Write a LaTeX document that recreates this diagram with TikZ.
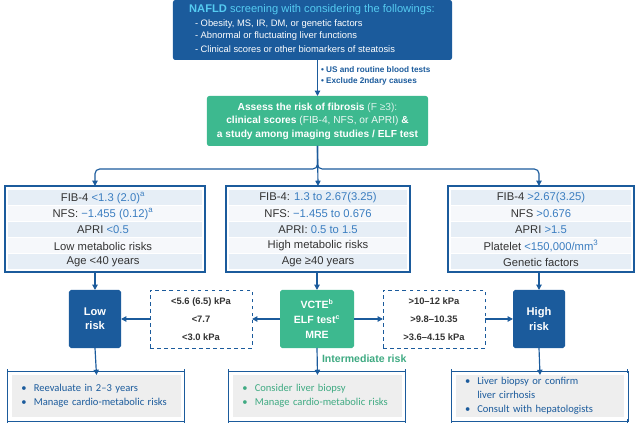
\documentclass[tikz,border=0pt]{standalone}
\usepackage{fontspec}
\setmainfont{Liberation Sans}
\newfontfamily\calfont{Carlito}
\usetikzlibrary{arrows.meta}
\definecolor{navy}{HTML}{1B5B9C}
\definecolor{fibgreen}{HTML}{3DB98F}
\definecolor{notegreen}{HTML}{3FAA82}
\definecolor{cyantitle}{HTML}{55CCF2}
\definecolor{valblue}{HTML}{3A7DC0}
\definecolor{rowa}{HTML}{E6EEF6}
\definecolor{rowb}{HTML}{F6F8FB}
\definecolor{notegray}{HTML}{EEEEEE}
\definecolor{txtgray}{HTML}{333333}
\newcommand{\val}[1]{\textcolor{valblue}{#1}}

\begin{document}
\begin{tikzpicture}
[x=0.03cm,y=-0.03cm,
every node/.style={inner sep=0pt,outer sep=0pt,text=txtgray},
link/.style={draw=navy,line width=1pt,-{Triangle[length=4.5pt,width=4.5pt]}},
critbox/.style={draw=navy,line width=1.8pt,minimum height=2.58cm},
rowtext/.style={font=\fontsize{9.6}{12}\selectfont},
riskbox/.style={fill=navy,rounded corners=1.5pt,minimum width=1.56cm,minimum height=1.74cm,text=white,align=center,font=\bfseries\fontsize{9.5}{12}\selectfont},
cutbox/.style={draw=navy,dashed,line width=.6pt,minimum width=3.06cm,minimum height=1.74cm,align=center,font=\bfseries\fontsize{8}{15.3}\selectfont},
note/.style={fill=notegray,minimum width=5.04cm,minimum height=1.26cm,text width=4.5cm,align=left,font=\calfont\fontsize{9}{11.9}\selectfont},
frame/.style={draw=navy,line width=.5pt}]
\useasboundingbox (0,0) rectangle (636,427);

% screening
\node[fill=navy,rounded corners=2pt,minimum width=8.37cm,minimum height=1.8cm] (top) at (312.5,30) {};
\node[text=cyantitle,font=\fontsize{9.5}{11}\selectfont] (ttl) at (312,10) {\textbf{NAFLD} screening with considering the followings:};
\foreach \i/\t in {1/{Obesity, MS, IR, DM, or genetic factors},2/{Abnormal or fluctuating liver functions},3/{Clinical scores or other biomarkers of steatosis}}
\node[anchor=west,text=white,font=\fontsize{8}{10}\selectfont] (scr\i) at (195,11.5+12.5*\i) {- \t};
\node[anchor=west,align=left,text=navy,font=\bfseries\fontsize{7}{9.4}\selectfont] (prep) at (321,76) {\textbullet\ US and routine blood tests\\ \textbullet\ Exclude 2ndary causes};

% fibrosis assessment
\node[fill=fibgreen,rounded corners=2pt,minimum width=6.63cm,minimum height=1.5cm,text=white,align=center,font=\fontsize{8.7}{11.5}\selectfont] (fib) at (317.5,121)
{\textbf{Assess the risk of fibrosis} \textcolor{white!80!fibgreen}{(F ≥3):}\\ \textbf{clinical scores} \textcolor{white!90!fibgreen}{(FIB-4, NFS, or APRI)} \textbf{\&}\\ \textbf{a study among imaging studies / ELF test}};

% criteria
\node[critbox,minimum width=6cm] (lowcrit) at (105,229) {};
\node[critbox,minimum width=5.52cm] (midcrit) at (318,229) {};
\node[critbox,minimum width=5.58cm] (highcrit) at (541,229) {};
\foreach \a/\b in {8/202,229/407,451/631}{
\foreach \r in {0,2,4} \fill[rowa] (\a,190.5+16*\r) rectangle (\b,205.5+16*\r);
\foreach \r in {1,3} \fill[rowb] (\a,190.5+16*\r) rectangle (\b,205.5+16*\r);
}
\foreach \i/\t in {1/{FIB-4 \val{<1.3 (2.0)\textsuperscript{a}}},2/{NFS: \val{−1.455 (0.12)\textsuperscript{a}}},3/{APRI \val{<0.5}},4/{Low metabolic risks},5/{Age <40 years}}
\node[rowtext] (lc\i) at (103,182+16*\i) {\t};
\foreach \i/\t in {1/{FIB-4: \val{1.3 to 2.67(3.25)}},2/{NFS: \val{−1.455 to 0.676}},3/{APRI: \val{0.5 to 1.5}},4/{High metabolic risks},5/{Age ≥40 years}}
\node[rowtext] (mc\i) at (318,182+16*\i) {\t};
\foreach \i/\t in {1/{FIB-4 \val{>2.67(3.25)}},2/{NFS \val{>0.676}},3/{APRI \val{>1.5}},4/{Platelet \val{<150,000/mm\textsuperscript{3}}},5/{Genetic factors}}
\node[rowtext] (hc\i) at (541,182+16*\i) {\t};

% risk level
\node[riskbox] (lowrisk) at (95,319) {Low\\risk};
\node[riskbox] (highrisk) at (539,319) {High\\risk};
\node[riskbox,fill=fibgreen,minimum width=2.22cm,font=\bfseries\fontsize{9}{12.8}\selectfont] (vcte) at (317,319) {VCTE\textsuperscript{b}\\ELF test\textsuperscript{c}\\MRE};
\node[cutbox] (lowcut) at (201,319) {<5.6 (6.5) kPa\\<7.7\\<3.0 kPa};
\node[cutbox] (highcut) at (434,319) {>10–12 kPa\\>9.8–10.35\\>3.6–4.15 kPa};
\node[anchor=west,text=notegreen,font=\bfseries\fontsize{9}{11}\selectfont] (interm) at (322,359) {Intermediate risk};

% management
\node[note,text=navy] (lownote) at (96.5,396) {\textbullet\ \ Reevaluate in 2–3 years\\\textbullet\ \ Manage cardio-metabolic risks};
\node[note,text=notegreen] (midnote) at (317.5,396) {\textbullet\ \ Consider liver biopsy\\\textbullet\ \ Manage cardio-metabolic risks};
\node[note,text=navy] (highnote) at (540,396) {\textbullet\ \ Liver biopsy or confirm\\\phantom{\textbullet\ \ }liver cirrhosis\\\textbullet\ \ Consult with hepatologists};
\foreach \n in {lownote,midnote,highnote}{
\draw[frame] ([shift={(-0.15cm,0.12cm)}]\n.north west) rectangle ([shift={(0.12cm,-0.12cm)}]\n.south east);
\draw[frame,{Bar[width=3pt]}-{Bar[width=3pt]}] ([shift={(-0.15cm,0.12cm)}]\n.north west) -- ([shift={(0.12cm,0.12cm)}]\n.north east);
\draw[frame,{Bar[width=3pt]}-{Bar[width=3pt]}] ([shift={(-0.15cm,-0.12cm)}]\n.south west) -- ([shift={(0.12cm,-0.12cm)}]\n.south east);
}

% connectors
\draw[link] (top.south -| fib.north) -- (fib.north);
\draw[link] (fib.south) -- (midcrit.north);
\draw[link,rounded corners=4pt] (fib.south) -- ++(0,23) -| (lowrisk |- lowcrit.north);
\draw[link,rounded corners=4pt] (fib.south) -- ++(0,23) -| (highrisk |- highcrit.north);
\draw[link] (lowrisk |- lowcrit.south) -- (lowrisk.north);
\draw[link] (vcte |- midcrit.south) -- (vcte.north);
\draw[link] (highrisk |- highcrit.south) -- (highrisk.north);
\foreach \from/\to in {vcte.west/lowcut.east,lowcut.west/lowrisk.east,vcte.east/highcut.west,highcut.east/highrisk.west,lowrisk.south/lownote.north,vcte.south/midnote.north,highrisk.south/highnote.north}
\draw[link] (\from) -- (\to);
\end{tikzpicture}
\end{document}
